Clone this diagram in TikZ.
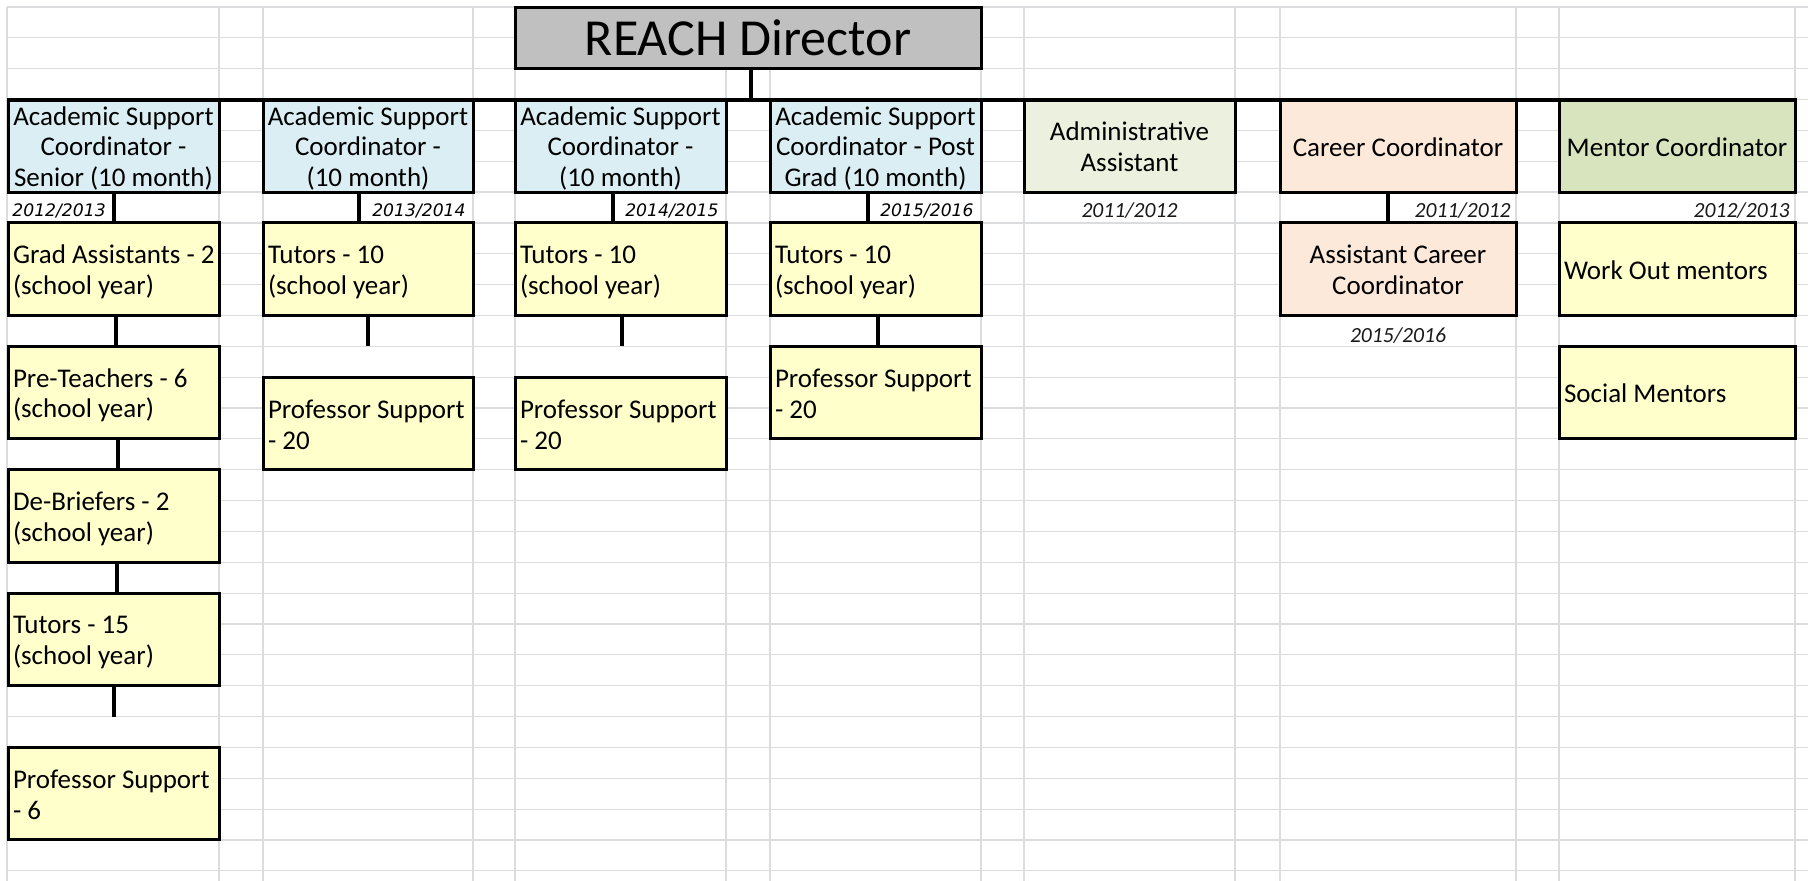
\documentclass[tikz,border=0pt]{standalone}
\usepackage{fontspec}
\setmainfont{Carlito}
\newfontfamily\verdlike{DejaVu Sans}
\definecolor{gridc}{RGB}{218,220,221}
\definecolor{dirfill}{RGB}{192,192,192}
\definecolor{ascfill}{RGB}{218,238,243}
\definecolor{admfill}{RGB}{235,241,222}
\definecolor{carfill}{RGB}{253,233,217}
\definecolor{menfill}{RGB}{215,228,189}
\definecolor{yelfill}{RGB}{255,255,204}
\newcommand\linestrut{\rule[-1.8pt]{0pt}{13.8pt}}
\newcommand\keepline[1]{\mbox{\spaceskip=0pt\xspaceskip=0pt\linestrut #1}}
\newcommand\cellbox[7]{\node[cellbase,#6,minimum width={(#4-#2)*0.5pt},minimum height={(#5-#3)*0.5pt}] (#1) at ({(#2+#4)/2},{(#3+#5)/2}) {#7};}
\tikzset{
  cellbase/.style={draw=black,line width=1.5pt,inner sep=0pt,outer sep=0pt,align=center,
    font=\fontsize{13.5}{15.425}\selectfont,text=black},
  lefttext/.style={inner xsep=2.5pt,text width=#1,align=left},
  gridline/.style={draw=gridc,line width=0.6pt},
  conn/.style={draw=black,line width=2pt},
  yearlbl/.style={font=\fontsize{10.8}{12}\selectfont\itshape,inner sep=0pt,text=black!90},
  yearasc/.style={font=\verdlike\fontsize{8.6}{10}\selectfont\itshape,inner sep=0pt,text=black},
}
\begin{document}
\begin{tikzpicture}[x=0.5pt,y=-0.5pt]
\useasboundingbox (0,0) rectangle (1808,881);
\fill[white] (0,0) rectangle (1808,881);
% spreadsheet grid
\foreach \k in {0,...,28} \draw[gridline] (7,{7+30.85*\k}) -- (1808,{7+30.85*\k});
\foreach \x in {7,219,263,473,515,726,770,981,1024,1235,1280,1516,1559,1795} \draw[gridline] (\x,7) -- (\x,881);

% top
\cellbox{dir}{515}{7.5}{981}{68.7}{fill=dirfill,font=\fontsize{26}{30}\selectfont}{REACH Director}

% first level
\cellbox{asc1}{8}{99.55}{219}{192.1}{fill=ascfill}{\keepline{Academic Support}\\\keepline{Coordinator -}\\\keepline{Senior (10 month)}}
\cellbox{asc2}{263}{99.55}{473}{192.1}{fill=ascfill}{\keepline{Academic Support}\\\keepline{Coordinator -}\\\keepline{(10 month)}}
\cellbox{asc3}{515}{99.55}{726}{192.1}{fill=ascfill}{\keepline{Academic Support}\\\keepline{Coordinator -}\\\keepline{(10 month)}}
\cellbox{asc4}{770}{99.55}{981}{192.1}{fill=ascfill}{\keepline{Academic Support}\\\keepline{Coordinator - Post}\\\keepline{Grad (10 month)}}
\cellbox{adm}{1024}{99.55}{1235}{192.1}{fill=admfill}{\keepline{Administrative}\\\keepline{Assistant}}
\cellbox{car}{1280}{99.55}{1516}{192.1}{fill=carfill}{\keepline{Career Coordinator}}
\cellbox{men}{1559}{99.55}{1795}{192.1}{fill=menfill}{\keepline{Mentor Coordinator}}

% years
\node[yearasc,anchor=west] (y1) at (12,210.5) {2012/2013};
\node[yearasc,anchor=east] (y2) at (466,210.5) {2013/2014};
\node[yearasc,anchor=east] (y3) at (719,210.5) {2014/2015};
\node[yearasc,anchor=east] (y4) at (974,210.5) {2015/2016};
\node[yearlbl] (y5) at (1129.5,210.5) {2011/2012};
\node[yearlbl,anchor=east] (y6) at (1511,210.5) {2011/2012};
\node[yearlbl,anchor=east] (y7) at (1790,210.5) {2012/2013};
\node[yearlbl] (y8) at (1398,336) {2015/2016};

% second level
\cellbox{grad}{8}{222.95}{219}{315.5}{fill=yelfill,lefttext=100.5pt}{\keepline{Grad Assistants - 2}\\\keepline{(school year)}}
\cellbox{tut2}{263}{222.95}{473}{315.5}{fill=yelfill,lefttext=100pt}{\keepline{Tutors - 10}\\\keepline{(school year)}}
\cellbox{tut3}{515}{222.95}{726}{315.5}{fill=yelfill,lefttext=100.5pt}{\keepline{Tutors - 10}\\\keepline{(school year)}}
\cellbox{tut4}{770}{222.95}{981}{315.5}{fill=yelfill,lefttext=100.5pt}{\keepline{Tutors - 10}\\\keepline{(school year)}}
\cellbox{acc}{1280}{222.95}{1516}{315.5}{fill=carfill}{\keepline{Assistant Career}\\\keepline{Coordinator}}
\cellbox{wom}{1559}{222.95}{1795}{315.5}{fill=yelfill,lefttext=113pt}{\keepline{Work Out mentors}}

% third level
\cellbox{pret}{8}{346.35}{219}{438.9}{fill=yelfill,lefttext=100.5pt}{\keepline{Pre-Teachers - 6}\\\keepline{(school year)}}
\cellbox{prof2}{263}{377.2}{473}{469.75}{fill=yelfill,lefttext=100pt}{\keepline{Professor Support}\\\keepline{- 20}}
\cellbox{prof3}{515}{377.2}{726}{469.75}{fill=yelfill,lefttext=100.5pt}{\keepline{Professor Support}\\\keepline{- 20}}
\cellbox{prof4}{770}{346.35}{981}{438.9}{fill=yelfill,lefttext=100.5pt}{\keepline{Professor Support}\\\keepline{- 20}}
\cellbox{socm}{1559}{346.35}{1795}{438.9}{fill=yelfill,lefttext=113pt}{\keepline{Social Mentors}}

% first column chain
\cellbox{deb}{8}{469.75}{219}{562.3}{fill=yelfill,lefttext=100.5pt}{\keepline{De-Briefers - 2}\\\keepline{(school year)}}
\cellbox{tut15}{8}{593.15}{219}{685.7}{fill=yelfill,lefttext=100.5pt}{\keepline{Tutors - 15}\\\keepline{(school year)}}
\cellbox{prof6}{8}{747.4}{219}{839.95}{fill=yelfill,lefttext=100.5pt}{\keepline{Professor Support}\\\keepline{- 6}}

% free stub ends
\coordinate (s2) at (368,346.35);
\coordinate (s3) at (622,346.35);
\coordinate (s15) at (114,716.55);

% connectors
\draw[conn] (asc1.north west) -- (men.north east);
\draw[conn] ([xshift=1.5pt]dir.south) -- ([xshift=1.5pt]dir.south |- asc1.north);
\draw[conn] (asc1.south) -- (grad.north);
\draw[conn] ([xshift=1pt]grad.south) -- ([xshift=1pt]pret.north);
\draw[conn] ([xshift=2pt]pret.south) -- ([xshift=2pt]deb.north);
\draw[conn] ([xshift=1.5pt]deb.south) -- ([xshift=1.5pt]tut15.north);
\draw[conn] (tut15.south) -- (tut15.south |- s15);
\draw[conn] ([xshift=-4.5pt]asc2.south) -- ([xshift=-4.5pt]tut2.north);
\draw[conn] (tut2.south) -- (s2);
\draw[conn] ([xshift=-4pt]asc3.south) -- ([xshift=-4pt]tut3.north);
\draw[conn] (tut3.south -| s3) -- (s3);
\draw[conn] ([xshift=-4pt]asc4.south) -- ([xshift=-4pt]tut4.north);
\draw[conn] ([xshift=1pt]tut4.south) -- ([xshift=1pt]prof4.north);
\draw[conn] ([xshift=-5pt]car.south) -- ([xshift=-5pt]acc.north);
\end{tikzpicture}
\end{document}
